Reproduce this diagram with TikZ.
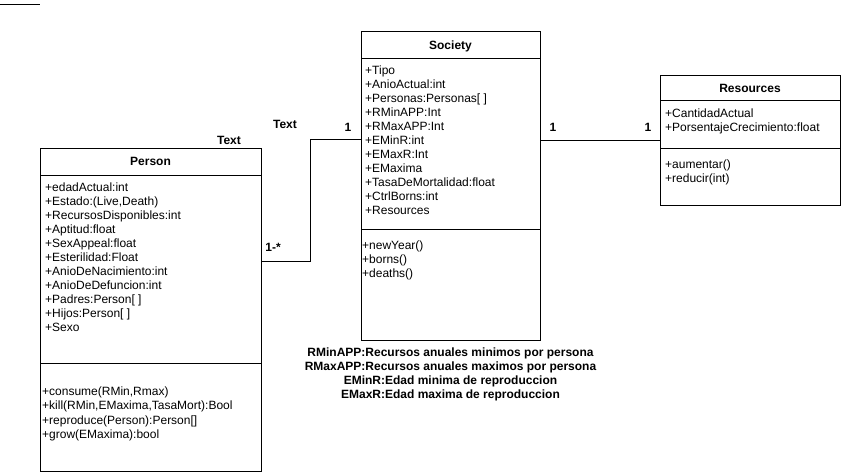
\documentclass[tikz,border=0pt]{standalone}
\usepackage{fontspec}
\setmainfont{Liberation Sans}
\begin{document}
\begin{tikzpicture}[x=1pt,y=-1pt]
\tikzstyle{every node}+=[inner sep=0pt]
\tikzstyle{classbox}=[draw=black,rectangle,anchor=north west,line width=0.8pt]
\tikzstyle{member}=[anchor=west,yshift=-1.5pt,text height=9pt,text depth=3pt,font=\fontsize{12}{14}\selectfont]
\tikzstyle{classname}=[yshift=-1.5pt,text height=9pt,text depth=3pt,font=\bfseries\fontsize{12}{14}\selectfont]
\tikzstyle{mult}=[yshift=-1.5pt,text height=9pt,text depth=3pt,font=\bfseries\fontsize{12}{14}\selectfont]
\useasboundingbox (0,0) rectangle (852,473);
\draw [black,line width=0.8pt] (0,4) -- (40,4);
% Person
\node [classbox,minimum width=221pt,minimum height=323pt] (person) at (40,148) {};
\node [classname] (personname) at (150.5,161) {Person};
\draw [black,line width=0.8pt] ([yshift=-27pt]person.north west) -- ([yshift=-27pt]person.north east);
\draw [black,line width=0.8pt] ([yshift=-215pt]person.north west) -- ([yshift=-215pt]person.north east);
\node [member] (pa1) at (45,187) {+edadActual:int};
\node [member] (pa2) at (45,201) {+Estado:(Live,Death)};
\node [member] (pa3) at (45,215) {+RecursosDisponibles:int};
\node [member] (pa4) at (45,229) {+Aptitud:float};
\node [member] (pa5) at (45,243) {+SexAppeal:float};
\node [member] (pa6) at (45,257) {+Esterilidad:Float};
\node [member] (pa7) at (45,271) {+AnioDeNacimiento:int};
\node [member] (pa8) at (45,285) {+AnioDeDefuncion:int};
\node [member] (pa9) at (45,299) {+Padres:Person[ ]};
\node [member] (pa10) at (45,313) {+Hijos:Person[ ]};
\node [member] (pa11) at (45,327) {+Sexo};
\node [member] (pm1) at (42,391) {+consume(RMin,Rmax)};
\node [member] (pm2) at (42,405) {+kill(RMin,EMaxima,TasaMort):Bool};
\node [member] (pm3) at (42,420) {+reproduce(Person):Person[]};
\node [member] (pm4) at (42,434) {+grow(EMaxima):bool};
% Society
\node [classbox,minimum width=179pt,minimum height=309pt] (society) at (361,31) {};
\node [classname] (societyname) at (450.5,45) {Society};
\draw [black,line width=0.8pt] ([yshift=-27pt]society.north west) -- ([yshift=-27pt]society.north east);
\draw [black,line width=0.8pt] ([yshift=-198pt]society.north west) -- ([yshift=-198pt]society.north east);
\node [member] (sa1) at (365,70) {+Tipo};
\node [member] (sa2) at (365,84) {+AnioActual:int};
\node [member] (sa3) at (365,98) {+Personas:Personas[ ]};
\node [member] (sa4) at (365,112) {+RMinAPP:Int};
\node [member] (sa5) at (365,126) {+RMaxAPP:Int};
\node [member] (sa6) at (365,140) {+EMinR:int};
\node [member] (sa7) at (365,154) {+EMaxR:Int};
\node [member] (sa8) at (365,168) {+EMaxima};
\node [member] (sa9) at (365,182) {+TasaDeMortalidad:float};
\node [member] (sa10) at (365,196) {+CtrlBorns:int};
\node [member] (sa11) at (365,210) {+Resources};
\node [member] (sm1) at (362,245) {+newYear()};
\node [member] (sm2) at (362,259) {+borns()};
\node [member] (sm3) at (362,273) {+deaths()};
% Resources
\node [classbox,minimum width=180pt,minimum height=130pt] (resources) at (660,75) {};
\node [classname] (resourcesname) at (750,88) {Resources};
\draw [black,line width=0.8pt] ([yshift=-25pt]resources.north west) -- ([yshift=-25pt]resources.north east);
\draw [black,line width=0.8pt] ([yshift=-73pt]resources.north west) -- ([yshift=-73pt]resources.north east);
\node [member] (ra1) at (665,113) {+CantidadActual};
\node [member] (ra2) at (665,127) {+PorsentajeCrecimiento:float};
\node [member] (rm1) at (665,164) {+aumentar()};
\node [member] (rm2) at (665,178) {+reducir(int)};
% associations
\coordinate (bend) at (310,261);
\draw [black,line width=0.8pt] (person.east |- bend) -- (bend) |- (society.west |- 0,139);
\draw [black,line width=0.8pt] (resources.west -| society.east) -- (resources.west);
\node [mult] (m1) at (229,140) {Text};
\node [mult] (m2) at (285,124) {Text};
\node [mult] (m3) at (273,247) {1-*};
\node [mult] (m4) at (348,127) {1};
\node [mult] (m5) at (553,127) {1};
\node [mult] (m6) at (648,127) {1};
% notes
\node [font=\bfseries\fontsize{12}{14}\selectfont,align=center] (notes) at (450.5,374) {RMinAPP:Recursos anuales minimos por persona\\RMaxAPP:Recursos anuales maximos por persona\\EMinR:Edad minima de reproduccion\\EMaxR:Edad maxima de reproduccion};
\end{tikzpicture}
\end{document}
